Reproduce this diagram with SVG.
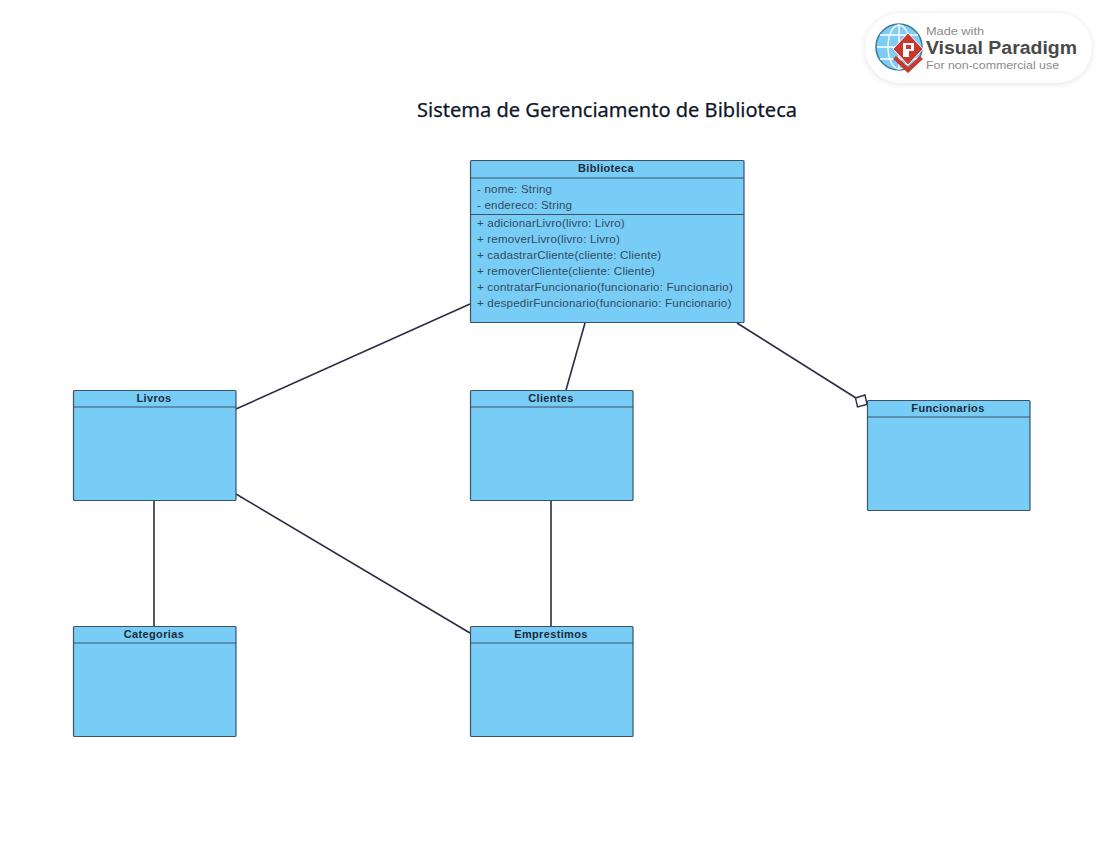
<svg xmlns="http://www.w3.org/2000/svg" width="1108" height="858" viewBox="0 0 1108 858">
<style>
.box{fill:#78cdf6;stroke:#3d5266;stroke-width:1.2}
.div{stroke:#3d5266;stroke-width:1.1;fill:none}
.name{font:bold 11px "Liberation Sans",Arial,sans-serif;fill:#1c2b3a;text-anchor:middle;letter-spacing:.35px}
.m{font:11.6px "Liberation Sans",Arial,sans-serif;fill:#34495e;letter-spacing:.17px}
.c{stroke:#2a2e42;stroke-width:1.6;fill:none}
.lg{font-family:"Liberation Sans",Arial,sans-serif}
</style>
<defs>
<filter id="sh" x="-10%" y="-20%" width="120%" height="140%"><feGaussianBlur stdDeviation="3"/></filter>
</defs>
<rect width="1108" height="858" fill="#fff"/>
<g id="logo">
<rect x="865" y="14" width="227" height="70" rx="35" fill="#e4e4e4" filter="url(#sh)"/>
<rect x="865" y="13" width="227" height="70" rx="35" fill="#fff"/>
<circle cx="899" cy="47" r="23" fill="#7fcdf5" stroke="#3f7d98" stroke-width="1.6"/>
<g fill="none" stroke="#fff" stroke-width="1.4"><ellipse cx="899" cy="47" rx="11" ry="22"/><path d="M899 25V69M877 47H921M880 35H918M880 59H918"/></g>
<path d="M908 73l-15-14 3-3 12 11 12-11 3 3z" fill="#c8382e"/>
<path d="M908 33l15 16-15 16-15-16z" fill="#c8382e" stroke="#fff" stroke-width="1"/>
<path d="M903 43h11v8h-5v6h-6zM906 45v4h5v-4z" fill="#fff" fill-rule="evenodd"/>
<text class="lg" x="926" y="35" font-size="10.5" fill="#8a8a8a" textLength="58" lengthAdjust="spacingAndGlyphs">Made with</text>
<text class="lg" x="926" y="54" font-size="18" font-weight="700" fill="#4a4a4a" textLength="151" lengthAdjust="spacingAndGlyphs">Visual Paradigm</text>
<text class="lg" x="926" y="69" font-size="10.500" fill="#8a8a8a" textLength="133" lengthAdjust="spacingAndGlyphs">For non-commercial use</text>
</g>
<text id="title" x="607" y="117" text-anchor="middle" font-family="'Noto Sans','Open Sans',sans-serif" font-size="19.5" fill="#10172a" stroke="#10172a" stroke-width=".25" textLength="380" lengthAdjust="spacingAndGlyphs">Sistema de Gerenciamento de Biblioteca</text>
<g id="connectors">
<path class="c" d="M470 304L236 409"/>
<path class="c" d="M585 323L566 390"/>
<path class="c" d="M737 323L856 398"/>
<path d="M855.500 398L865 395L867 404.500L857.500 407Z" fill="#fff" stroke="#2a2e42" stroke-width="1.4"/>
<path class="c" d="M154 501V626"/>
<path class="c" d="M236 494L470 633"/>
<path class="c" d="M551 501V626"/>
</g>
<g id="biblioteca">
<rect class="box" x="470.500" y="160.500" width="273.500" height="162" rx="1"/>
<path class="div" d="M470.500 178H744M470.500 214.500H744"/>
<text class="name" x="606" y="172">Biblioteca</text>
<text class="m" x="477" y="193">- nome: String</text>
<text class="m" x="477" y="209">- endereco: String</text>
<text class="m" x="477" y="227">+ adicionarLivro(livro: Livro)</text>
<text class="m" x="477" y="243">+ removerLivro(livro: Livro)</text>
<text class="m" x="477" y="259">+ cadastrarCliente(cliente: Cliente)</text>
<text class="m" x="477" y="275">+ removerCliente(cliente: Cliente)</text>
<text class="m" x="477" y="291">+ contratarFuncionario(funcionario: Funcionario)</text>
<text class="m" x="477" y="307">+ despedirFuncionario(funcionario: Funcionario)</text>
</g>
<g id="livros">
<rect class="box" x="73.500" y="390.500" width="162.500" height="110" rx="1"/>
<path class="div" d="M73.500 407H236"/>
<text class="name" x="154" y="402">Livros</text>
</g>
<g id="clientes">
<rect class="box" x="470.500" y="390.500" width="162.500" height="110" rx="1"/>
<path class="div" d="M470.500 407H633"/>
<text class="name" x="551" y="402">Clientes</text>
</g>
<g id="funcionarios">
<rect class="box" x="867.500" y="400.500" width="162.500" height="110" rx="1"/>
<path class="div" d="M867.500 417H1030"/>
<text class="name" x="948" y="412">Funcionarios</text>
</g>
<g id="categorias">
<rect class="box" x="73.500" y="626.500" width="162.500" height="110" rx="1"/>
<path class="div" d="M73.500 643H236"/>
<text class="name" x="154" y="638">Categorias</text>
</g>
<g id="emprestimos">
<rect class="box" x="470.500" y="626.500" width="162.500" height="110" rx="1"/>
<path class="div" d="M470.500 643H633"/>
<text class="name" x="551" y="638">Emprestimos</text>
</g>
</svg>
